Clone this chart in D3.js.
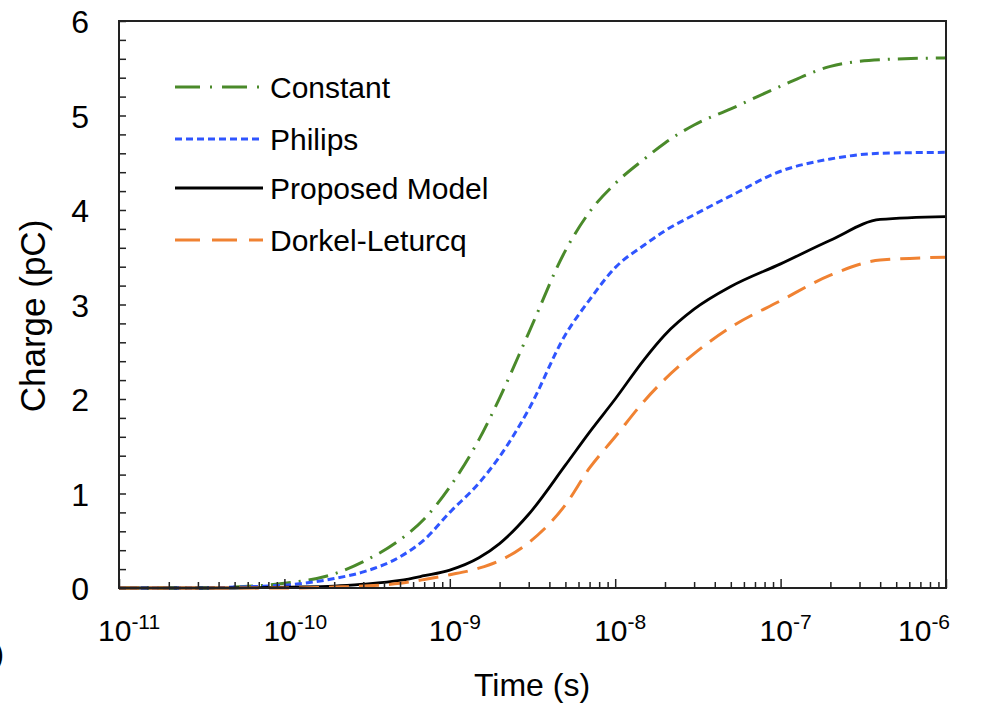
<!DOCTYPE html>
<html>
<head>
<meta charset="utf-8">
<script src="https://cdn.jsdelivr.net/npm/d3@7"></script>
<style>
  body { margin: 0; background: #fff; }
  svg { font-family: "Liberation Sans", Arial, sans-serif; }
</style>
</head>
<body>
<svg width="987" height="703"></svg>
<script>
'use strict';

// time points (s) and charge (pC)
var times = [1e-11, 3e-11, 5e-11, 1e-10, 2e-10, 3e-10, 5e-10, 7e-10, 1e-9, 1.5e-9, 2e-9, 3e-9,
             5e-9, 7e-9, 1e-8, 1.5e-8, 2e-8, 3e-8, 5e-8, 1e-7, 2e-7, 4e-7, 1e-6];
var constantQ = [0, 0, 0.01, 0.05, 0.15, 0.28, 0.51, 0.73, 1.07, 1.57, 2.01, 2.70,
                 3.57, 3.98, 4.28, 4.54, 4.71, 4.90, 5.07, 5.31, 5.52, 5.59, 5.61];
var philipsQ  = [0, 0, 0.01, 0.03, 0.10, 0.17, 0.33, 0.51, 0.80, 1.11, 1.39, 1.89,
                 2.68, 3.05, 3.39, 3.63, 3.78, 3.95, 4.15, 4.41, 4.54, 4.60, 4.61];
var proposedQ = [0, 0, 0, 0.01, 0.02, 0.04, 0.08, 0.13, 0.19, 0.32, 0.47, 0.78,
                 1.30, 1.65, 2.00, 2.42, 2.68, 2.95, 3.19, 3.43, 3.68, 3.90, 3.93];
var dorkelQ   = [0, 0, 0, 0, 0.01, 0.02, 0.05, 0.09, 0.14, 0.21, 0.29, 0.48,
                 0.88, 1.27, 1.60, 1.98, 2.21, 2.48, 2.76, 3.04, 3.31, 3.47, 3.50];

var seriesNames = ["Constant", "Philips", "Proposed Model", "Dorkel-Leturcq"];
var seriesValues = [constantQ, philipsQ, proposedQ, dorkelQ];
var seriesColors = ["#4a8a2a", "#2f55ff", "#000000", "#f08232"];
var seriesDash = ["20,8,2,8", "7,4", null, "20,10"];
var legendDash = ["25,10,2,10", "7,4", null, "25,12"];
var seriesWidth = [3, 3, 2.8, 3];

var yTicks = [0, 1, 2, 3, 4, 5, 6];
var xDecades = [-11, -10, -9, -8, -7, -6];

var svg = d3.select("svg");
var plotL = 119, plotR = 946, plotT = 21, plotB = 588;

var x = d3.scaleLog().domain([1e-11, 1e-6]).range([plotL, plotR]);
var y = d3.scaleLinear().domain([0, 6]).range([plotB, plotT]);

// curves
var line = d3.line()
    .x(function(d) { return x(d[0]); })
    .y(function(d) { return y(d[1]); })
    .curve(d3.curveMonotoneX);

seriesValues.forEach(function(vals, i) {
  var pts = times.map(function(t, j) { return [t, vals[j]]; });
  svg.append("path")
      .datum(pts)
      .attr("fill", "none")
      .attr("stroke", seriesColors[i])
      .attr("stroke-width", seriesWidth[i])
      .attr("stroke-dasharray", seriesDash[i])
      .attr("d", line);
});

// frame
svg.append("rect")
    .attr("x", plotL).attr("y", plotT)
    .attr("width", plotR - plotL).attr("height", plotB - plotT)
    .attr("fill", "none").attr("stroke", "#222").attr("stroke-width", 2);

// y ticks (inward, every 0.2)
var yAxis = d3.axisRight(y).tickValues(d3.range(0, 6.01, 0.2)).tickSize(7).tickFormat("");
svg.append("g").attr("transform", "translate(" + plotL + ",0)").call(yAxis)
    .call(function(g) { g.select(".domain").remove(); })
    .selectAll("line").attr("stroke", "#222").attr("stroke-width", 1.5);

svg.append("g").selectAll("text")
    .data(yTicks).enter().append("text")
    .attr("x", 89).attr("y", function(d) { return y(d) + 12; })
    .attr("text-anchor", "end")
    .attr("font-size", 32)
    .text(function(d) { return d; });

// x ticks (inward, log minor)
var minor = [];
xDecades.slice(0, -1).forEach(function(e) {
  for (var k = 2; k <= 9; k++) minor.push(k * Math.pow(10, e));
});
var xMinor = d3.axisTop(x).tickValues(minor).tickSize(6).tickFormat("");
svg.append("g").attr("transform", "translate(0," + plotB + ")").call(xMinor)
    .call(function(g) { g.select(".domain").remove(); })
    .selectAll("line").attr("stroke", "#222").attr("stroke-width", 1.5);
var xMajor = d3.axisTop(x).tickValues(xDecades.map(function(e) { return Math.pow(10, e); }))
    .tickSize(9).tickFormat("");
svg.append("g").attr("transform", "translate(0," + plotB + ")").call(xMajor)
    .call(function(g) { g.select(".domain").remove(); })
    .selectAll("line").attr("stroke", "#222").attr("stroke-width", 1.5);

// last label pulled in toward the frame, as in the original
var xl = svg.append("g").selectAll("text")
    .data(xDecades).enter().append("text")
    .attr("x", function(d, i) { return x(Math.pow(10, d)) - (i === xDecades.length - 1 ? 48 : 21); })
    .attr("y", 641)
    .attr("font-size", 30);
xl.append("tspan").text("10");
xl.append("tspan").attr("font-size", 21).attr("dy", -12).text(function(d) { return d; });

// axis titles
svg.append("text")
    .attr("x", 532).attr("y", 696)
    .attr("text-anchor", "middle")
    .attr("font-size", 32)
    .text("Time (s)");

svg.append("text")
    .attr("transform", "translate(45,316) rotate(-90)")
    .attr("text-anchor", "middle")
    .attr("font-size", 35)
    .text("Charge (pC)");

// panel label cut at the left edge
svg.append("text")
    .attr("x", 4).attr("y", 664)
    .attr("text-anchor", "end")
    .attr("font-size", 30)
    .text("(b)");

// legend
var legendY = [87, 139, 188, 240];
seriesNames.forEach(function(name, i) {
  svg.append("line")
      .attr("x1", 175).attr("x2", 263)
      .attr("y1", legendY[i]).attr("y2", legendY[i])
      .attr("stroke", seriesColors[i])
      .attr("stroke-width", seriesWidth[i])
      .attr("stroke-dasharray", legendDash[i]);
  svg.append("text")
      .attr("x", 270).attr("y", legendY[i] + 11)
      .attr("font-size", 30)
      .text(name);
});
</script>
</body>
</html>
